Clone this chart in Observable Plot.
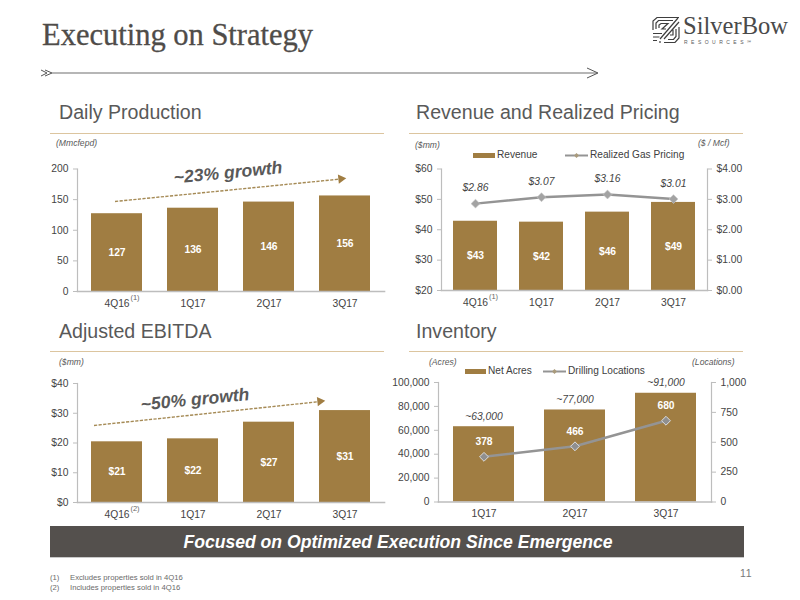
<!DOCTYPE html>
<html>
<head>
<meta charset="utf-8">
<script src="https://cdn.jsdelivr.net/npm/d3@7"></script>
<script src="https://cdn.jsdelivr.net/npm/@observablehq/plot@0.6"></script>
<style>
  html,body{margin:0;padding:0;background:#fff;overflow:hidden}
  #page{position:relative;width:800px;height:600px;font-family:"Liberation Sans",Arial,sans-serif;overflow:hidden}
  #page>*{position:absolute}
  .lbl{white-space:nowrap;line-height:1}
  .h{font-size:19.6px;color:#595959}
  .unit{font-size:8.6px;font-style:italic;color:#595959}
  .rule{height:1.5px;background:#dcc59f;width:334px}
  .leg{font-size:10.1px;color:#404040}
  .swatch{height:5px;background:#a07d42}
  .ft{font-size:7.7px;color:#6a6a6a}
  svg text{font-family:"Liberation Sans",Arial,sans-serif}
</style>
</head>
<body>
<div id="page"></div>
<script>
// ---- data ----
const quartersAll = ["4Q16", "1Q17", "2Q17", "3Q17"];
const quartersInv = ["1Q17", "2Q17", "3Q17"];
const production = [127, 136, 146, 156];
const revenue = [42.8, 42.5, 45.8, 49];
const revenueLabels = ["$43", "$42", "$46", "$49"];
const gasPrice = [2.86, 3.07, 3.16, 3.01];
const ebitda = [20.4, 21.4, 27, 30.9];
const ebitdaLabels = ["$21", "$22", "$27", "$31"];
const netAcres = [63000, 77000, 91000];
const netAcresLabels = ["~63,000", "~77,000", "~91,000"];
const drillLocations = [378, 466, 680];
const prodTicks = [0, 50, 100, 150, 200];
const revTicks = [20, 30, 40, 50, 60];
const priceTicks = [0, 1, 2, 3, 4];
const ebitdaTicks = [0, 10, 20, 30, 40];
const acreTicks = [0, 20000, 40000, 60000, 80000, 100000];
const locTicks = [0, 250, 500, 750, 1000];

// ---- styles ----
const BAR = "#a07d42", AXIS = "#bdbdbd", TXT = "#444444", LINE = "#949494";
const page = document.getElementById("page");
const fs = 10.3;

function place(el, left, top) {
  el.style.position = "absolute"; el.style.left = left + "px"; el.style.top = top + "px";
  page.appendChild(el);
}
function label(text, cls, left, top, extra) {
  const d = document.createElement("div");
  d.className = "lbl " + cls; d.textContent = text;
  d.style.left = left + "px"; d.style.top = top + "px";
  if (extra) Object.assign(d.style, extra);
  page.appendChild(d);
  return d;
}
function axisFrames(right) {
  const m = [
    Plot.frame({anchor: "left", stroke: AXIS, strokeWidth: 1.2}),
    Plot.frame({anchor: "bottom", stroke: AXIS, strokeWidth: 1.6})
  ];
  if (right) m.push(Plot.frame({anchor: "right", stroke: AXIS, strokeWidth: 1.2}));
  return m;
}
function sup(text, cat) {
  return Plot.text([text], {x: () => cat, frameAnchor: "bottom", dx: 18, dy: 8,
    fontSize: 7.5, fill: "#666666"});
}
function base(cfg, marks) {
  return Plot.plot({
    width: cfg.width, height: cfg.height,
    marginLeft: cfg.ml, marginRight: cfg.mr, marginTop: cfg.mt, marginBottom: cfg.mb,
    style: {background: "transparent", overflow: "visible"},
    x: {domain: cfg.cats, paddingInner: 1/3, paddingOuter: 1/6, label: null},
    y: {domain: cfg.yd, label: null},
    marks
  });
}
function xAxis() {
  return Plot.axisX({tickSize: 0, tickPadding: 8, fontSize: fs, fill: TXT, label: null});
}
function yAxis(ticks, fmt) {
  return Plot.axisY({ticks, tickFormat: fmt, tickSize: 4, tickPadding: 5, stroke: AXIS,
    fontSize: fs, fill: TXT, label: null});
}
function growth(text, x, dx, y, x1, y1, x2, y2, ldx) {
  return [
    Plot.link([0], {x1: () => x1, y1: () => y1, x2: () => x2, y2: () => y2, dx: ldx,
      stroke: "#a58a55", strokeWidth: 1.4, strokeDasharray: "3.2,1.4"}),
    Plot.dot([0], {x: () => x2, y: () => y2, dx: ldx - 2, symbol: "triangle", r: 3.4,
      rotate: 84, fill: BAR, stroke: "none"}),
    Plot.text([text], {x: () => x, y: () => y, dx, rotate: -5.5, fontSize: 17.6,
      fontWeight: "bold", fontStyle: "italic", fill: "#595959",
      style: {textShadow: "1px 1px 1.5px rgba(0,0,0,.25)"}})
  ];
}

// ---- Daily Production ----
const tProd = production.map((v, i) => ({q: quartersAll[i], v}));
place(base({width: 360, height: 150, ml: 47, mr: 6, mt: 8.5, mb: 19, cats: quartersAll, yd: [0, 200]}, [
  Plot.barY(tProd, {x: "q", y: "v", fill: BAR}),
  ...axisFrames(false),
  yAxis(prodTicks, d => d),
  xAxis(),
  Plot.text(tProd, {x: "q", y: d => d.v / 2, text: d => String(d.v), fill: "#fff", fontWeight: "bold", fontSize: fs}),
  sup("(1)", "4Q16"),
  ...growth("~23% growth", "1Q17", 35, 194, "4Q16", 147, "3Q17", 184, -2)
]), 30, 160);

// ---- Revenue and Realized Pricing ----
const rev2y = p => 20 + p * 10;
const tRev = revenue.map((v, i) => ({q: quartersAll[i], v, l: revenueLabels[i], p: gasPrice[i]}));
place(base({width: 360, height: 150, ml: 41, mr: 53, mt: 8.5, mb: 20, cats: quartersAll, yd: [20, 60]}, [
  Plot.barY(tRev, {x: "q", y1: 20, y2: "v", fill: BAR}),
  ...axisFrames(true),
  yAxis(revTicks, d => "$" + d),
  Plot.axisY(priceTicks.map(rev2y), {anchor: "right", tickFormat: d => "$" + ((d - 20) / 10).toFixed(2),
    tickSize: 4, tickPadding: 5, stroke: AXIS, fontSize: fs, fill: TXT, label: null}),
  xAxis(),
  Plot.text(tRev, {x: "q", y: d => (20 + d.v) / 2, text: "l", fill: "#fff", fontWeight: "bold", fontSize: fs}),
  Plot.line(tRev, {x: "q", y: d => rev2y(d.p), stroke: LINE, strokeWidth: 2.5}),
  Plot.dot(tRev, {x: "q", y: d => rev2y(d.p), symbol: "diamond2", r: 4, fill: "#a3a3a3", stroke: "#c8c8c8", strokeWidth: 0.6}),
  Plot.text(tRev, {x: "q", y: d => rev2y(d.p), dy: -15.5, text: d => "$" + d.p.toFixed(2), fontStyle: "italic", fontSize: fs, fill: TXT}),
  sup("(1)", "4Q16")
]), 400, 160);

// ---- Adjusted EBITDA ----
const tEb = ebitda.map((v, i) => ({q: quartersAll[i], v, l: ebitdaLabels[i]}));
place(base({width: 360, height: 150, ml: 47, mr: 6, mt: 8, mb: 23, cats: quartersAll, yd: [0, 40]}, [
  Plot.barY(tEb, {x: "q", y: "v", fill: BAR}),
  ...axisFrames(false),
  yAxis(ebitdaTicks, d => "$" + d),
  xAxis(),
  Plot.text(tEb, {x: "q", y: d => d.v / 2, text: "l", fill: "#fff", fontWeight: "bold", fontSize: fs}),
  sup("(2)", "4Q16"),
  ...growth("~50% growth", "1Q17", 2, 34.6, "4Q16", 25.9, "3Q17", 34, -23)
]), 30, 375);

// ---- Inventory ----
const loc2y = l => l * 100;
const tInv = netAcres.map((v, i) => ({q: quartersInv[i], v, l: netAcresLabels[i], d: drillLocations[i]}));
place(base({width: 360, height: 150, ml: 38, mr: 49, mt: 7, mb: 23.5, cats: quartersInv, yd: [0, 100000]}, [
  Plot.barY(tInv, {x: "q", y: "v", fill: BAR}),
  ...axisFrames(true),
  yAxis(acreTicks, d3.format(",")),
  Plot.axisY(locTicks.map(loc2y), {anchor: "right", tickFormat: d => d3.format(",")(d / 100),
    tickSize: 4, tickPadding: 5, stroke: AXIS, fontSize: fs, fill: TXT, label: null}),
  xAxis(),
  Plot.line(tInv, {x: "q", y: d => loc2y(d.d), stroke: LINE, strokeWidth: 2.5}),
  Plot.dot(tInv, {x: "q", y: d => loc2y(d.d), symbol: "diamond2", r: 4, fill: "#8f8f8f", stroke: "#dcdcdc", strokeWidth: 1}),
  Plot.text(tInv, {x: "q", y: d => loc2y(d.d), dy: -15, text: d => String(d.d), fill: "#fff", fontWeight: "bold", fontSize: fs}),
  Plot.text(tInv, {x: "q", y: "v", dy: -10.5, text: "l", fontStyle: "italic", fontSize: fs, fill: TXT})
]), 400, 375);

// ---- slide text ----
label("Executing on Strategy", "", 42, 20, {fontFamily: '"Liberation Serif",serif', fontSize: "30.5px", color: "#4f4c49", webkitTextStroke: "0.3px #4f4c49"});
label("Daily Production", "h", 59, 103);
label("Revenue and Realized Pricing", "h", 416, 103);
label("Adjusted EBITDA", "h", 59, 322);
label("Inventory", "h", 416, 322);
for (const [l, t] of [[50, 132.5], [409, 132.5], [50, 350.5], [409, 350.5]]) {
  const r = document.createElement("div"); r.className = "rule";
  r.style.left = l + "px"; r.style.top = t + "px"; page.appendChild(r);
}
label("(Mmcfepd)", "unit", 56, 139);
label("($mm)", "unit", 415, 141);
label("($ / Mcf)", "unit", 698, 139);
label("($mm)", "unit", 59, 358);
label("(Acres)", "unit", 429, 358);
label("(Locations)", "unit", 692, 358);

// legends
function legend(x, y, bar, w) {
  const d = document.createElement("div");
  d.style.left = x + "px"; d.style.top = y + "px"; d.style.width = w + "px"; d.style.height = "5px";
  if (bar) { d.className = "swatch"; }
  else {
    d.innerHTML = `<svg width="${w}" height="7" style="position:absolute;left:0;top:-1px;overflow:visible"><line x1="0" x2="${w}" y1="3.5" y2="3.5" stroke="${LINE}" stroke-width="2"/><path d="M${w/2} 1L${w/2+2.5} 3.5L${w/2} 6L${w/2-2.5} 3.5Z" fill="#a99a7c"/></svg>`;
  }
  page.appendChild(d);
}
legend(473, 152.5, true, 22);
label("Revenue", "leg", 497, 150);
legend(565, 152.5, false, 23);
label("Realized Gas Pricing", "leg", 590, 150);
legend(465, 368.5, true, 21);
label("Net Acres", "leg", 488, 366);
legend(543, 368.5, false, 23);
label("Drilling Locations", "leg", 568, 366);

// banner
const banner = document.createElement("div");
banner.textContent = "Focused on Optimized Execution Since Emergence";
Object.assign(banner.style, {left: "50px", top: "526px", width: "694px", height: "32px", lineHeight: "32px",
  background: "#54504d", borderBottom: "1px solid #c9c9c9", color: "#fff", fontWeight: "bold", fontStyle: "italic",
  fontSize: "17.6px", textAlign: "center", boxSizing: "border-box", paddingLeft: "2px"});
page.appendChild(banner);

label("(1)", "ft", 50, 574);
label("Excludes properties sold in 4Q16", "ft", 70, 574);
label("(2)", "ft", 50, 584);
label("Includes properties sold in 4Q16", "ft", 70, 584);
label("11", "", 740, 568, {fontSize: "10.5px", color: "#777", letterSpacing: "0.8px"});

// decorative arrow rule and logo
const deco = document.createElement("div");
deco.style.left = "0"; deco.style.top = "0";
deco.innerHTML = `<svg width="800" height="90" style="display:block">
  <path d="M52 73H597" stroke="#6f6f6f" stroke-width="1.1" fill="none"/>
  <path d="M587 68L598 73L587 78" stroke="#555" stroke-width="1" fill="none"/>
  <path d="M41 70L47 73L41 76M45 70L52 73L45 76" stroke="#555" stroke-width="1" fill="none"/>
  <g stroke="#3e3e3e" stroke-width="1.2" fill="none">
    <path d="M653 30V21L657 17.5H679"/>
    <path d="M656 29V23L658.5 20.5H673"/>
    <path d="M659 28V25L661 23.5H668L662 29H666"/>
    <path d="M678 18L660 39"/>
    <path d="M679 22L664 39"/>
    <path d="M679 27V38L675 42.5H664"/>
    <path d="M676 29V36.5L673.5 39.5H668"/>
    <path d="M672 30H673V35H670"/>
    <path d="M653 33.5H662M653 37H659.5M653 40.5H657"/>
    <path d="M660 41V43"/>
  </g>
  <text x="683" y="34" font-size="25.5" textLength="105" lengthAdjust="spacingAndGlyphs" fill="#4a4a4a" style="font-family:'Liberation Serif',serif">SilverBow</text>
  <text x="684" y="44" font-size="5" textLength="67" fill="#5a5a5a" style="font-family:'Liberation Sans',sans-serif">RESOURCES℠</text>
</svg>`;
page.appendChild(deco);
</script>
</body>
</html>
